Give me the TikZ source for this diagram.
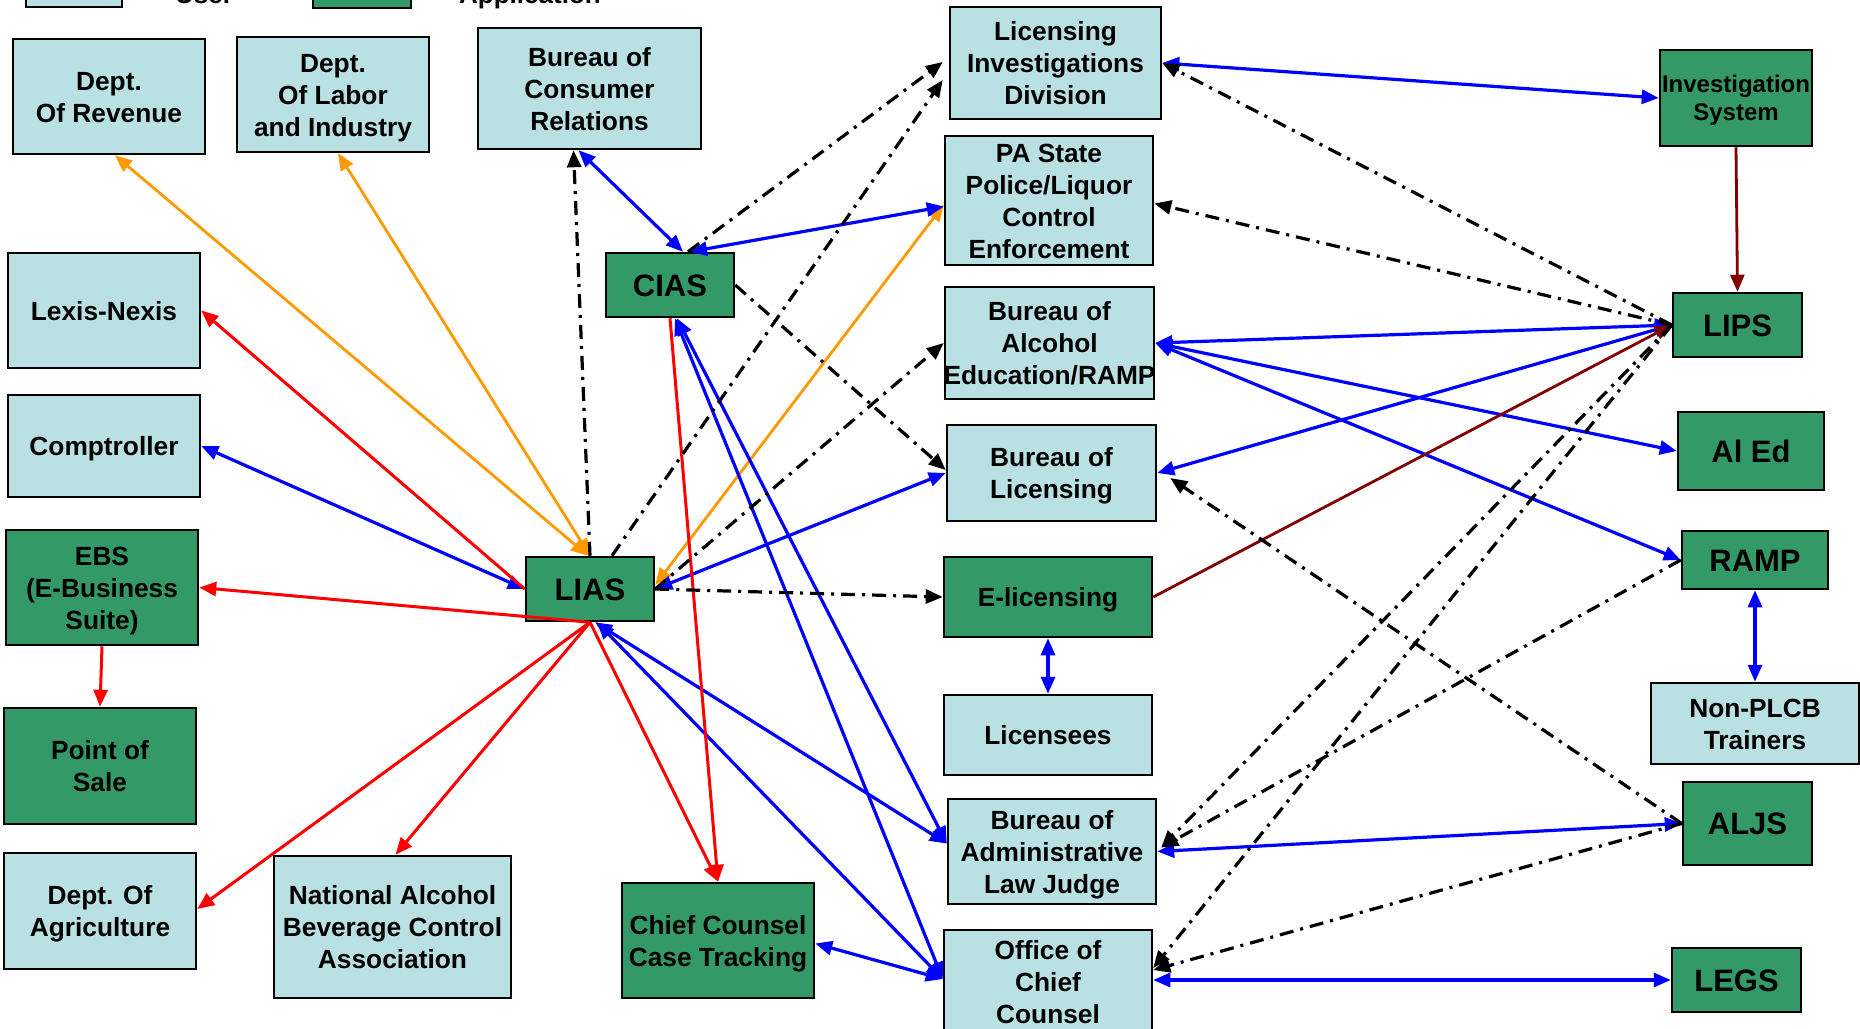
\documentclass[tikz,border=0pt]{standalone}
\usepackage{fontspec}
\setmainfont{Liberation Sans}
\usetikzlibrary{arrows.meta}

\definecolor{userfill}{RGB}{185,224,227}
\definecolor{appfill}{RGB}{51,153,102}
\definecolor{flowblue}{RGB}{0,0,255}
\definecolor{flowred}{RGB}{255,0,0}
\definecolor{floworange}{RGB}{255,153,0}
\definecolor{flowmaroon}{RGB}{128,0,0}

% invisible strut as tall as one full line, so that every box centres
% its lines the same way whatever letters they hold
\newcommand\linestrut{\rule[-0.24em]{0pt}{1.22em}}

\tikzset{
  nodebase/.style={draw=black, line width=2.5pt, inner sep=0pt, align=center,
    text=black, font=\bfseries\fontsize{26.3}{32}\selectfont,
    execute at end node={\linestrut}},
  userbox/.style={nodebase, fill=userfill},
  appbox/.style={nodebase, fill=appfill},
  bigname/.style={font=\bfseries\fontsize{31}{36}\selectfont},
  dims/.style 2 args={minimum width=#1pt, minimum height=#2pt},
  headtip/.tip={Triangle[length=17pt,width=14pt]},
  twoway/.style={headtip-headtip},
  oneway/.style={-headtip},
  bluelink/.style={draw=flowblue, line width=3.2pt, twoway},
  orangelink/.style={draw=floworange, line width=2.8pt, twoway},
  redlink/.style={draw=flowred, line width=3pt, oneway},
  maroonlink/.style={draw=flowmaroon, line width=2.8pt, oneway},
  dashlink/.style={draw=black, line width=3.2pt, oneway,
    dash pattern=on 14pt off 7pt on 3pt off 7pt},
  legendtext/.style={anchor=base west, inner sep=0pt,
    font=\bfseries\fontsize{26}{32}\selectfont}
}

\begin{document}
\begin{tikzpicture}[x=1pt,y=-1pt]
\useasboundingbox (0,0) rectangle (1860,1028);
\clip (0,0) rectangle (1860,1028);

% key along the top edge
\node[userbox, dims={96}{66}] (keyuser) at (74,-26) {};
\node[legendtext] (keyusertext) at (175,3) {User};
\node[appbox, dims={98}{66}] (keyapp) at (362,-25) {};
\node[legendtext] (keyapptext) at (459,3) {Application};

% left column and top row
\node[userbox, dims={192}{115}] (revenue) at (109,96.5) {\linestrut Dept.\\Of Revenue};
\node[userbox, dims={192}{115}] (labor) at (333,94.5) {\linestrut Dept.\\Of Labor\\and Industry};
\node[userbox, dims={223}{121}] (consumer) at (589.5,88.5) {\linestrut Bureau of\\Consumer\\Relations};
\node[userbox, dims={192}{115}] (lexis) at (104,310.5) {\linestrut Lexis-Nexis};
\node[userbox, dims={192}{102}] (comptroller) at (104,446) {\linestrut Comptroller};
\node[appbox, dims={192}{115}] (ebs) at (102,587.5) {\linestrut EBS\\(E-Business\\Suite)};
\node[appbox, dims={192}{116}] (pos) at (100,766) {\linestrut Point of\\Sale};
\node[userbox, dims={192}{116}] (agri) at (100,911) {\linestrut Dept. Of\\Agriculture};
\node[userbox, dims={237}{142}] (nabca) at (392.5,927) {\linestrut National Alcohol\\Beverage Control\\Association};
\node[appbox, dims={192}{115}] (ccct) at (718,940.5) {\linestrut Chief Counsel\\Case Tracking};

% central applications
\node[appbox, bigname, dims={128}{64}] (lias) at (590,589) {\linestrut LIAS};
\node[appbox, bigname, dims={128}{64}] (cias) at (670,285) {\linestrut CIAS};

% middle column
\node[userbox, dims={211}{112}] (lid) at (1055.5,63) {\linestrut Licensing\\Investigations\\Division};
\node[userbox, dims={208}{129}] (police) at (1049,200.5) {\linestrut PA State\\Police/Liquor\\Control\\Enforcement};
\node[userbox, dims={209}{112}] (bae) at (1049.5,343) {\linestrut Bureau of\\Alcohol\\\makebox[200pt]{Education/RAMP}};
\node[userbox, dims={209}{96}] (bol) at (1051.5,473) {\linestrut Bureau of\\Licensing};
\node[appbox, dims={208}{80}] (elic) at (1048,597) {\linestrut E-licensing};
\node[userbox, dims={208}{80}] (licensees) at (1048,735) {\linestrut Licensees};
\node[userbox, dims={208}{105}] (balj) at (1052,851.5) {\linestrut Bureau of\\Administrative\\Law Judge};
\node[userbox, dims={208}{104}] (occ) at (1048,982) {\linestrut Office of\\Chief\\Counsel};

% right column
\node[appbox, dims={152}{96}, font=\bfseries\fontsize{24}{28}\selectfont] (invsys) at (1736,98) {\linestrut Investigation\\System};
\node[appbox, bigname, dims={129}{64}] (lips) at (1737.5,325) {\linestrut LIPS};
\node[appbox, bigname, dims={146}{78}] (aled) at (1751,451) {\linestrut Al Ed};
\node[appbox, bigname, dims={146}{58}] (ramp) at (1755,560) {\linestrut RAMP};
\node[userbox, dims={208}{81}] (nonplcb) at (1755,723.5) {\linestrut Non-PLCB\\Trainers};
\node[appbox, bigname, dims={129}{83}] (aljs) at (1747.5,823.5) {\linestrut ALJS};
\node[appbox, bigname, dims={129}{64}] (legs) at (1736.5,980) {\linestrut LEGS};

% orange exchanges
\draw[orangelink] ([xshift=6pt]revenue.south) -- ([xshift=-2pt]lias.north);
\draw[orangelink] ([xshift=5pt]labor.south) -- (lias.north);
\draw[orangelink] ([yshift=4pt]lias.east) -- ([yshift=-4pt]police.west);

% blue two-way interfaces
\draw[bluelink] ([xshift=-11pt]consumer.south) -- ([xshift=13pt]cias.north);
\draw[bluelink] ([xshift=20pt]cias.north) -- ([yshift=-6pt]police.west);
\draw[bluelink] (comptroller.east) -- (lias.west);
\draw[bluelink] (lias.east) -- (bol.west);
\draw[bluelink] ([xshift=5pt]lias.south) -- ([yshift=8pt]balj.west);
\draw[bluelink] ([xshift=7pt]lias.south) -- ([yshift=3pt]occ.west);
\draw[bluelink] ([xshift=5pt]cias.south) -- ([yshift=3pt]occ.west);
\draw[bluelink] ([xshift=7pt]cias.south) -- ([yshift=8pt]balj.west);
\draw[bluelink] ([yshift=-3pt]ccct.east) -- ([yshift=3pt]occ.west);
\draw[bluelink] (lips.west) -- (bae.east);
\draw[bluelink] (lips.west) -- (bol.east);
\draw[bluelink] (bae.east) -- (aled.west);
\draw[bluelink] (bae.east) -- (ramp.west);
\draw[bluelink] (lid.east) -- (invsys.west);
\draw[bluelink] (aljs.west) -- (balj.east);
\draw[bluelink] ([yshift=2pt]occ.east) -- (legs.west);
\draw[bluelink] (elic.south) -- (licensees.north);
\draw[bluelink] (ramp.south) -- (nonplcb.north);

% red one-way feeds
\draw[redlink] (lias.west) -- (lexis.east);
\draw[redlink] (lias.south) -- (ebs.east);
\draw[redlink] (lias.south) -- ([yshift=2pt]agri.east);
\draw[redlink] (lias.south) -- ([xshift=3pt]nabca.north);
\draw[redlink] (lias.south) -- (ccct.north);
\draw[redlink] (cias.south) -- (ccct.north);
\draw[redlink] (ebs.south) -- (pos.north);

% dark red feeds into LIPS
\draw[maroonlink] (invsys.south) -- (lips.north);
\draw[maroonlink] (elic.east) -- (lips.west);

% dash-dot reporting links
\draw[dashlink] (lias.north) -- ([xshift=-16pt]consumer.south);
\draw[dashlink] ([xshift=22pt]lias.north) -- ([xshift=-6pt,yshift=-17pt]lid.west);
\draw[dashlink] ([xshift=18pt]cias.north) -- ([xshift=-6pt,yshift=1pt]lid.west);
\draw[dashlink] (cias.east) -- ([yshift=3pt]bol.west);
\draw[dashlink] (lias.east) -- (bae.west);
\draw[dashlink] (lias.east) -- (elic.west);
\draw[dashlink] (lips.west) -- (lid.east);
\draw[dashlink] (lips.west) -- ([yshift=-3pt]police.east);
\draw[dashlink] (aljs.west) -- ([xshift=13pt,yshift=-5pt]bol.east);
\draw[dashlink] (lips.west) -- ([xshift=4pt,yshift=4pt]balj.east);
\draw[dashlink] (lips.west) -- ([yshift=14pt]occ.east);
\draw[dashlink] (ramp.west) -- ([xshift=4pt,yshift=4pt]balj.east);
\draw[dashlink] (aljs.west) -- ([yshift=12pt]occ.east);
\end{tikzpicture}
\end{document}
